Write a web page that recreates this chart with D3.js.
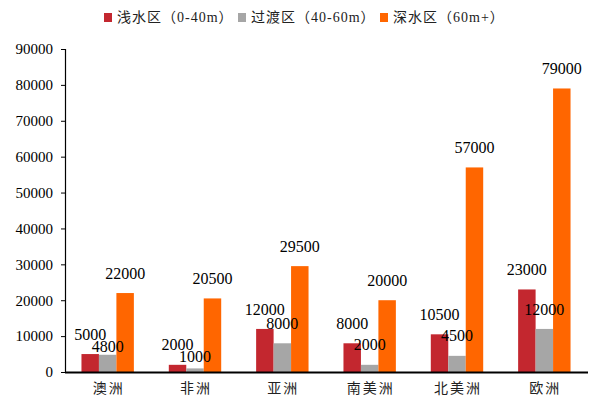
<!DOCTYPE html>
<html>
<head>
<meta charset="utf-8">
<script src="https://cdn.jsdelivr.net/npm/d3@7/dist/d3.min.js"></script>
<style>
  body { margin: 0; background: #fff; }
  svg { display: block; }
  .axis text { font-family: "Liberation Serif", "Times New Roman", serif; font-size: 15px; fill: #000; }
  .axis path, .axis line { stroke: #000; }
  .cat { font-family: "Liberation Serif", "Noto Sans CJK SC", serif; font-size: 14px; fill: #222; letter-spacing: 2px; }
  .lbl { font-family: "Liberation Serif", "Times New Roman", serif; font-size: 16px; fill: #000; }
  .leg { font-family: "Liberation Serif", "Noto Sans CJK SC", serif; font-size: 14px; fill: #222; letter-spacing: 1px; }
</style>
</head>
<body>
<svg width="590" height="396"></svg>
<script>
// data
var categories = ["澳洲", "非洲", "亚洲", "南美洲", "北美洲", "欧洲"];
var seriesNames = ["浅水区（0-40m）", "过渡区（40-60m）", "深水区（60m+）"];
var shallow = [5000, 2000, 12000, 8000, 10500, 23000];
var transition = [4800, 1000, 8000, 2000, 4500, 12000];
var deep = [22000, 20500, 29500, 20000, 57000, 79000];
var yTicks = [0, 10000, 20000, 30000, 40000, 50000, 60000, 70000, 80000, 90000];
var colors = ["#C3272F", "#A6A6A6", "#FF6600"];

var series = [shallow, transition, deep];

var svg = d3.select("svg");
var plot = {left: 64, right: 588, top: 49, bottom: 372};

var x = d3.scaleBand().domain(categories).range([plot.left, plot.right]).padding(0);
var x1 = d3.scaleBand().domain([0, 1, 2])
  .range([x.bandwidth() * 0.2, x.bandwidth() * 0.8]).padding(0);
var y = d3.scaleLinear().domain([0, 90000]).range([plot.bottom, plot.top]);

// y axis
var yAxis = svg.append("g")
  .attr("class", "axis")
  .attr("transform", "translate(" + (plot.left + 1) + ",0)")
  .call(d3.axisLeft(y).tickValues(yTicks).tickSize(4).tickPadding(8).tickFormat(d3.format("d")).tickSizeOuter(4));
yAxis.select(".domain").attr("stroke-width", 1.2);

// bars
categories.forEach(function(c, i) {
  series.forEach(function(s, k) {
    svg.append("rect")
      .attr("x", x(c) + x1(k))
      .attr("y", y(s[i]))
      .attr("width", x1.bandwidth())
      .attr("height", plot.bottom - y(s[i]))
      .attr("fill", colors[k]);
  });
});

// x axis line
svg.append("line")
  .attr("x1", plot.left + 1).attr("x2", plot.right)
  .attr("y1", plot.bottom + 0.5).attr("y2", plot.bottom + 0.5)
  .attr("stroke", "#000").attr("stroke-width", 1.8);

// category labels
svg.selectAll(".cat").data(categories).enter().append("text")
  .attr("class", "cat")
  .attr("x", function(d) { return x(d) + x.bandwidth() / 2 + 1; })
  .attr("y", 393)
  .attr("text-anchor", "middle")
  .text(function(d) { return d; });

// value labels, gray ones pushed down when they hit the red one
categories.forEach(function(c, i) {
  var prevY = null;
  series.forEach(function(s, k) {
    var ly = y(s[i]) - 20;
    if (k == 1 && Math.abs(ly - prevY) < 12) ly = prevY + 12;
    prevY = ly;
    svg.append("text")
      .attr("class", "lbl")
      .attr("x", x(c) + x1(k) + x1.bandwidth() / 2)
      .attr("y", ly)
      .attr("dy", "0.35em")
      .attr("text-anchor", "middle")
      .text(s[i]);
  });
});

// legend
var legX = [104, 238, 380];
var leg = svg.selectAll(".legitem").data(seriesNames).enter().append("g")
  .attr("transform", function(d, i) { return "translate(" + legX[i] + ",0)"; });
leg.append("rect")
  .attr("x", 0).attr("y", 13).attr("width", 8).attr("height", 9)
  .attr("fill", function(d, i) { return colors[i]; });
leg.append("text")
  .attr("class", "leg")
  .attr("x", 13).attr("y", 22)
  .text(function(d) { return d; });
</script>
</body>
</html>
